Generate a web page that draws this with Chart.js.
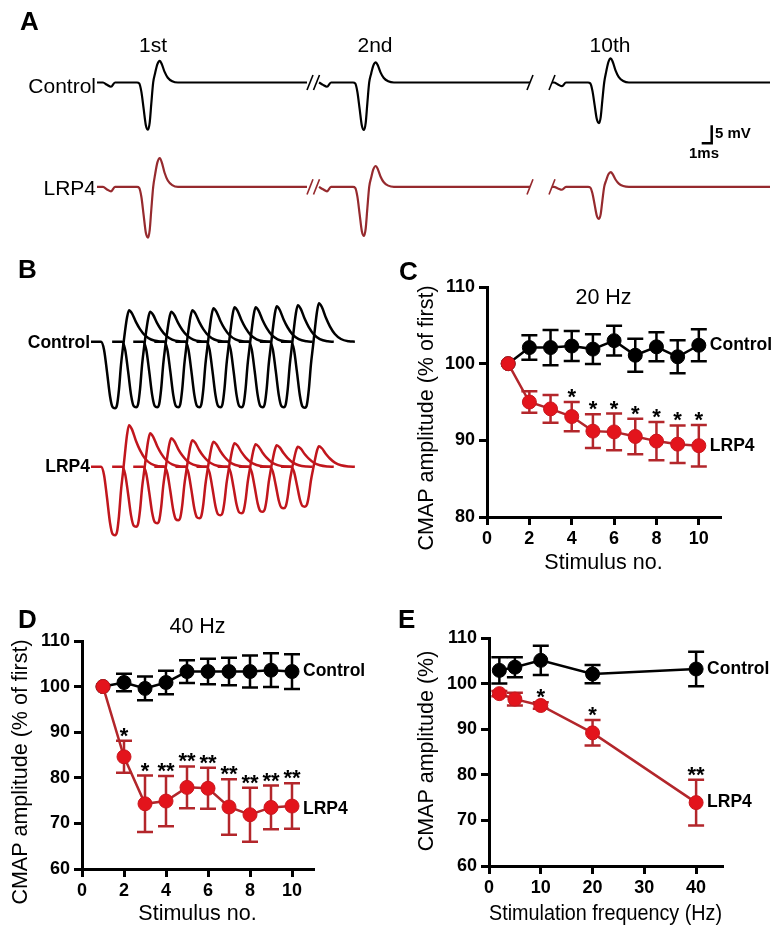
<!DOCTYPE html>
<html><head><meta charset="utf-8">
<script src="https://cdn.jsdelivr.net/npm/chart.js@4/dist/chart.umd.min.js"></script>
<style>
body{margin:0;background:#fff;width:773px;height:927px;position:relative;overflow:hidden;font-family:"Liberation Sans",Arial,Helvetica,sans-serif;}
canvas{position:absolute;}
.t{position:absolute;white-space:nowrap;line-height:1;color:#000;}
</style></head><body>
<canvas id="cA" width="773" height="215" style="left:0;top:35px"></canvas>
<canvas id="cB" width="290" height="280" style="left:90px;top:280px"></canvas>
<canvas id="cC" width="393" height="306" style="left:380px;top:270px"></canvas>
<canvas id="cD" width="390" height="347" style="left:0;top:580px"></canvas>
<canvas id="cE" width="383" height="347" style="left:390px;top:580px"></canvas>
<script>
// ---------------- DATA ----------------
// Panel A: example CMAPs (1st, 2nd, 10th response), amplitudes in mV
const aResponses = ['1st', '2nd', '10th'];
const aTroughMs = [14.8, 36.4, 59.9];
const aControlNeg = [13.1, 13.2, 11.3];
const aControlPos = [6.0, 5.6, 6.7];
const aLrp4Neg = [14.1, 13.6, 8.9];
const aLrp4Pos = [8.0, 5.8, 4.1];
// CMAP waveform shape (time rel. to trough in ms, normalised amplitude)
const aShapeT = [-4.5, -4.1, -3.7, -3.3, -1.1, -0.88, -0.66, -0.44, -0.22, 0, 0.17, 0.33, 0.52, 0.72, 0.94, 1.18, 1.38, 1.65, 1.98, 2.42, 3.0];
const aShapeV = [0, -0.05, -0.09, 0, 0, -0.02, -0.2, -0.55, -0.9, -1, -0.85, -0.45, 0, 0.45, 0.85, 1, 0.85, 0.5, 0.22, 0.06, 0];

// Panel B: 10 superimposed CMAPs at 40 Hz, amplitudes in mV
const bStimulus = [1, 2, 3, 4, 5, 6, 7, 8, 9, 10];
const bControlNeg = [13.3, 13.1, 13.1, 13.1, 13.1, 13.1, 13.1, 13.1, 13.1, 13.2];
const bControlPos = [6.3, 6.0, 6.0, 6.3, 6.7, 6.9, 6.9, 7.1, 7.3, 7.7];
const bLrp4Neg = [13.7, 12.0, 11.3, 10.7, 10.3, 9.7, 9.3, 9.0, 8.3, 8.0];
const bLrp4Pos = [8.3, 6.7, 5.7, 5.3, 5.0, 4.7, 4.5, 4.3, 4.0, 4.1];
const bShapeT = [-28.4, -16.6, -13.0, -9.5, -5.9, -3.0, 0, 2.4, 4.7, 7.1, 9.5, 11.8, 14.2, 16.6, 20.1, 24.9, 29.6, 35.5, 42.7, 52.1, 59.2];
const bShapeV = [0, 0, -0.12, -0.45, -0.82, -0.98, -1, -0.95, -0.72, -0.35, -0.08, 0.32, 0.76, 1, 0.9, 0.62, 0.4, 0.2, 0.07, 0.01, 0];

// Panel C: 20 Hz
const cStim = [1, 2, 3, 4, 5, 6, 7, 8, 9, 10];
const cControl = [100, 102.1, 102.1, 102.3, 101.9, 103.0, 101.1, 102.2, 100.9, 102.4];
const cControlErr = [0, 1.6, 2.3, 1.95, 1.95, 1.95, 2.15, 1.9, 2.15, 2.1];
const cLrp4 = [100, 95.0, 94.1, 93.1, 91.2, 91.1, 90.5, 89.9, 89.5, 89.3];
const cLrp4Err = [0, 1.4, 1.8, 1.9, 2.2, 2.4, 2.3, 2.5, 2.45, 2.7];
const cStars = ['', '', '', '*', '*', '*', '*', '*', '*', '*'];
const cXTicks = [0, 2, 4, 6, 8, 10];
const cYTicks = [80, 90, 100, 110];

// Panel D: 40 Hz
const dStim = [1, 2, 3, 4, 5, 6, 7, 8, 9, 10];
const dControl = [100, 100.9, 99.6, 100.9, 103.3, 103.3, 103.3, 103.3, 103.6, 103.3];
const dControlErr = [0, 1.9, 2.6, 2.6, 2.5, 2.8, 3.0, 3.5, 3.7, 3.8];
const dLrp4 = [100, 84.6, 74.3, 74.9, 77.9, 77.7, 73.6, 71.9, 73.5, 73.8];
const dLrp4Err = [0, 3.5, 6.2, 5.5, 4.6, 4.5, 6.1, 5.9, 4.8, 5.0];
const dStars = ['', '*', '*', '**', '**', '**', '**', '**', '**', '**'];
const dXTicks = [0, 2, 4, 6, 8, 10];
const dYTicks = [60, 70, 80, 90, 100, 110];

// Panel E: frequency dependence (10th response)
const eFreq = [2, 5, 10, 20, 40];
const eControl = [102.9, 103.6, 105.1, 102.1, 103.2];
const eControlErr = [2.9, 2.2, 3.2, 2.0, 3.8];
const eLrp4 = [97.8, 96.6, 95.2, 89.2, 73.9];
const eLrp4Err = [0.6, 1.4, 0.7, 2.8, 5.0];
const eStars = ['', '', '*', '*', '**'];
const eXTicks = [0, 10, 20, 30, 40];
const eYTicks = [60, 70, 80, 90, 100, 110];

// ---------------- STYLE ----------------
const FONT = '"Liberation Sans", Arial, Helvetica, sans-serif';
Chart.defaults.font.family = FONT;
Chart.defaults.color = '#000';
const BLACK = '#000000';
const RED_FILL = '#e3141c';
const RED_EDGE = '#c8161d';
const RED_LINE = '#b3262b';
const RED_TRACE_A = '#962a2e';
const RED_TRACE_B = '#c1161d';

// ---------------- HTML TEXT ----------------
function addText(txt, x, cy, size, weight, align) {
  const d = document.createElement('div');
  d.className = 't';
  d.textContent = txt;
  d.style.fontSize = size + 'px';
  d.style.fontWeight = weight;
  d.style.top = (cy - 0.49 * size) + 'px';
  if (align === 'right') d.style.right = (773 - x) + 'px';
  else if (align === 'center') { d.style.left = x + 'px'; d.style.transform = 'translateX(-50%)'; }
  else d.style.left = x + 'px';
  document.body.appendChild(d);
}
addText('A', 20, 21, 26, 'bold');
addText('B', 18, 269, 26, 'bold');
addText('C', 399, 271, 26, 'bold');
addText('D', 18, 619, 26, 'bold');
addText('E', 398, 619, 26, 'bold');
const aLabelX = [153, 375, 610];
aResponses.forEach((r, i) => addText(r, aLabelX[i], 44, 21, 'normal', 'center'));
addText('Control', 96, 85, 21, 'normal', 'right');
addText('LRP4', 96, 187, 21, 'normal', 'right');
addText('5 mV', 715, 132, 15, 'bold');
addText('1ms', 689, 152, 15, 'bold');
addText('Control', 90, 343, 17.5, 'bold', 'right');
addText('LRP4', 90, 467, 17.5, 'bold', 'right');

// ---------------- PANEL A ----------------
const common = { responsive: false, animation: false, devicePixelRatio: 1, events: [] };
const hiddenScales = (xmin, xmax, ymin, ymax) => ({
  x: { type: 'linear', display: false, min: xmin, max: xmax },
  y: { type: 'linear', display: false, min: ymin, max: ymax }
});
function spikeSegment(t0, neg, pos, base, from, to, shT, shV) {
  const pts = [{ x: from, y: base }];
  shT.forEach((t, i) => {
    const x = t0 + t;
    if (x > from && x < to) pts.push({ x, y: base + (shV[i] < 0 ? shV[i] * neg : shV[i] * pos) });
  });
  pts.push({ x: to, y: base });
  return pts;
}
const traceDs = (data, color, w) => ({ data, borderColor: color, borderWidth: w, pointRadius: 0, fill: false, cubicInterpolationMode: 'monotone' });
const A_SEG = [[9.7, 30.7], [31.9, 53.0], [55.2, 77.0]];
const A_LRP4_BASE = -29.0;
const aDatasets = [];
[[aControlNeg, aControlPos, 0, BLACK], [aLrp4Neg, aLrp4Pos, A_LRP4_BASE, RED_TRACE_A]].forEach(([neg, pos, base, col]) => {
  aTroughMs.forEach((t0, i) => aDatasets.push(traceDs(spikeSegment(t0, neg[i], pos[i], base, A_SEG[i][0], A_SEG[i][1], aShapeT, aShapeV), col, 2.2)));
  [31.0, 31.65, 53.0, 55.2].forEach(c => aDatasets.push(traceDs([{ x: c - 0.3, y: base - 2.1 }, { x: c + 0.3, y: base + 2.1 }], col, 1.6)));
});
// scale bar: 1 ms x 5 mV
aDatasets.push({ data: [{ x: 70.17, y: -16.9 }, { x: 71.17, y: -16.9 }, { x: 71.17, y: -11.9 }], borderColor: BLACK, borderWidth: 2.5, pointRadius: 0, tension: 0 });
new Chart(document.getElementById('cA'), {
  type: 'line', data: { datasets: aDatasets },
  options: Object.assign({}, common, {
    layout: { padding: 0 }, plugins: { legend: { display: false }, tooltip: { enabled: false } },
    scales: hiddenScales(0, 77.3, 13.19 - 215 / 3.6, 13.19)
  })
});

// ---------------- PANEL B ----------------
const B_INTERVAL = 25, B_LRP4_BASE = -25;
const bDatasets = [];
[[bControlNeg, bControlPos, 0, BLACK], [bLrp4Neg, bLrp4Pos, B_LRP4_BASE, RED_TRACE_B]].forEach(([neg, pos, base, col]) => {
  bStimulus.forEach((s, i) => {
    const t0 = (s - 1) * B_INTERVAL;
    bDatasets.push(traceDs(spikeSegment(t0, neg[i], pos[i], base, t0 + bShapeT[0], t0 + bShapeT[bShapeT.length - 1], bShapeT, bShapeV), col, 2.5));
  });
});
const bXmin = -25 / 0.844;
new Chart(document.getElementById('cB'), {
  type: 'line', data: { datasets: bDatasets },
  options: Object.assign({}, common, {
    layout: { padding: 0 }, plugins: { legend: { display: false }, tooltip: { enabled: false } },
    scales: hiddenScales(bXmin, bXmin + 290 / 0.844, 12.34 - 280 / 5, 12.34)
  })
});

// ---------------- PANELS C, D, E ----------------
const annotPlugin = {
  id: 'annot',
  beforeDatasetsDraw(chart, args, o) {
    const ctx = chart.ctx, ys = chart.scales.y;
    chart.data.datasets.forEach((ds, di) => {
      if (!ds.errors) return;
      const meta = chart.getDatasetMeta(di);
      ctx.save();
      ctx.strokeStyle = ds.errColor; ctx.lineWidth = 2.5; ctx.lineCap = 'butt';
      meta.data.forEach((pt, i) => {
        const e = ds.errors[i]; if (!e) return;
        const v = ds.data[i].y;
        const yt = ys.getPixelForValue(v + e), yb = ys.getPixelForValue(v - e);
        ctx.beginPath();
        ctx.moveTo(pt.x, yt); ctx.lineTo(pt.x, yb);
        ctx.moveTo(pt.x - 8, yt); ctx.lineTo(pt.x + 8, yt);
        ctx.moveTo(pt.x - 8, yb); ctx.lineTo(pt.x + 8, yb);
        ctx.stroke();
      });
      ctx.restore();
    });
  },
  afterDatasetsDraw(chart, args, o) {
    const ctx = chart.ctx, ys = chart.scales.y;
    chart.data.datasets.forEach((ds, di) => {
      const meta = chart.getDatasetMeta(di);
      ctx.save();
      ctx.fillStyle = '#000';
      if (ds.stars) {
        ctx.font = 'bold 22px ' + FONT; ctx.textAlign = 'center'; ctx.textBaseline = 'alphabetic';
        meta.data.forEach((pt, i) => {
          if (!ds.stars[i]) return;
          const v = ds.data[i].y + (ds.errors[i] || 0);
          ctx.fillText(ds.stars[i], pt.x, ys.getPixelForValue(v) + 2);
        });
      }
      if (ds.endLabel) {
        const last = meta.data[meta.data.length - 1];
        ctx.font = 'bold 17.5px ' + FONT; ctx.textAlign = 'left'; ctx.textBaseline = 'middle';
        ctx.fillText(ds.endLabel, last.x + 11, last.y + (ds.endLabelDy || 0));
      }
      ctx.restore();
    });
  },
  afterDraw(chart, args, o) {
    const ctx = chart.ctx;
    ctx.save();
    ctx.fillStyle = '#000';
    if (o.freqText) {
      ctx.font = '21.5px ' + FONT; ctx.textAlign = 'center'; ctx.textBaseline = 'middle';
      const ca = chart.chartArea;
      ctx.fillText(o.freqText, (ca.left + ca.right) / 2, chart.scales.y.getPixelForValue(o.freqY));
    }
    if (o.yTitle) {
      ctx.translate(o.yTitleX, o.yTitleY);
      ctx.rotate(-Math.PI / 2);
      ctx.font = '21.5px ' + FONT; ctx.textAlign = 'center'; ctx.textBaseline = 'middle';
      ctx.fillText(o.yTitle, 0, 0);
    }
    ctx.restore();
  }
};

function statChart(id, cfg) {
  const mk = (xs, ys) => xs.map((x, i) => ({ x, y: ys[i] }));
  const axisCommon = (ticksArr) => ({
    type: 'linear',
    afterBuildTicks: s => { s.ticks = ticksArr.map(v => ({ value: v })); },
    grid: { display: true, drawOnChartArea: false, drawTicks: true, tickLength: 8, tickWidth: 3, tickColor: '#000', lineWidth: 3, color: '#000' },
    border: { display: true, color: '#000', width: 3 },
    ticks: { font: { size: 18, weight: 'bold' }, color: '#000', autoSkip: false, maxRotation: 0 }
  });
  const xAxis = axisCommon(cfg.xTicks);
  Object.assign(xAxis, { min: cfg.xMin, max: cfg.xMax, afterFit: s => { s.height = cfg.xH; },
    title: { display: true, text: cfg.xTitle, font: { size: 21.5 }, color: '#000', padding: 0 } });
  xAxis.ticks.padding = 3;
  const yAxis = axisCommon(cfg.yTicks);
  Object.assign(yAxis, { min: cfg.yMin, max: cfg.yMax, afterFit: s => { s.width = cfg.yW; } });
  yAxis.ticks.padding = 4;
  return new Chart(document.getElementById(id), {
    type: 'line',
    data: {
      datasets: [
        { label: 'LRP4', data: mk(cfg.x, cfg.lrp4), errors: cfg.lrp4Err, errColor: RED_LINE, stars: cfg.stars, endLabel: 'LRP4', endLabelDy: cfg.lrp4Dy || 0,
          borderColor: RED_LINE, borderWidth: 2.5, pointRadius: 7, pointBackgroundColor: RED_FILL, pointBorderColor: RED_EDGE, pointBorderWidth: 1, tension: 0, fill: false },
        { label: 'Control', data: mk(cfg.x, cfg.control), errors: cfg.controlErr, errColor: BLACK, endLabel: 'Control',
          borderColor: BLACK, borderWidth: 2.5, pointRadius: 7, pointBackgroundColor: BLACK, pointBorderColor: BLACK, pointBorderWidth: 1, tension: 0, fill: false }
      ]
    },
    options: Object.assign({}, common, {
      layout: { padding: { left: 0, top: cfg.padTop, right: cfg.padRight, bottom: 0 } },
      plugins: { legend: { display: false }, tooltip: { enabled: false },
        annot: { freqText: cfg.freqText, freqY: cfg.freqY, yTitle: cfg.yTitle, yTitleX: cfg.yTitleX, yTitleY: cfg.yTitleY } },
      scales: { x: xAxis, y: yAxis }
    }),
    plugins: [annotPlugin]
  });
}

statChart('cC', { x: cStim, control: cControl, controlErr: cControlErr, lrp4: cLrp4, lrp4Err: cLrp4Err, stars: cStars,
  xTicks: cXTicks, yTicks: cYTicks, xMin: 0, xMax: 11, yMin: 80, yMax: 110, xH: 59, yW: 107, padTop: 17, padRight: 53,
  xTitle: 'Stimulus no.', yTitle: 'CMAP amplitude (% of first)', yTitleX: 47, yTitleY: 148,
  freqText: '20 Hz', freqY: 108.5 });
statChart('cD', { x: dStim, control: dControl, controlErr: dControlErr, lrp4: dLrp4, lrp4Err: dLrp4Err, stars: dStars,
  xTicks: dXTicks, yTicks: dYTicks, xMin: 0, xMax: 11, yMin: 60, yMax: 110, xH: 58, yW: 82, padTop: 61, padRight: 77,
  xTitle: 'Stimulus no.', yTitle: 'CMAP amplitude (% of first)', yTitleX: 21, yTitleY: 192,
  freqText: '40 Hz', freqY: 113.1, lrp4Dy: 3 });
statChart('cE', { x: eFreq, control: eControl, controlErr: eControlErr, lrp4: eLrp4, lrp4Err: eLrp4Err, stars: eStars,
  xTicks: eXTicks, yTicks: eYTicks, xMin: 0, xMax: 45, yMin: 60, yMax: 110, xH: 61, yW: 99, padTop: 58, padRight: 51,
  xTitle: 'Stimulation frequency (Hz)', yTitle: 'CMAP amplitude (%)', yTitleX: 37, yTitleY: 171 });
</script>
</body></html>
